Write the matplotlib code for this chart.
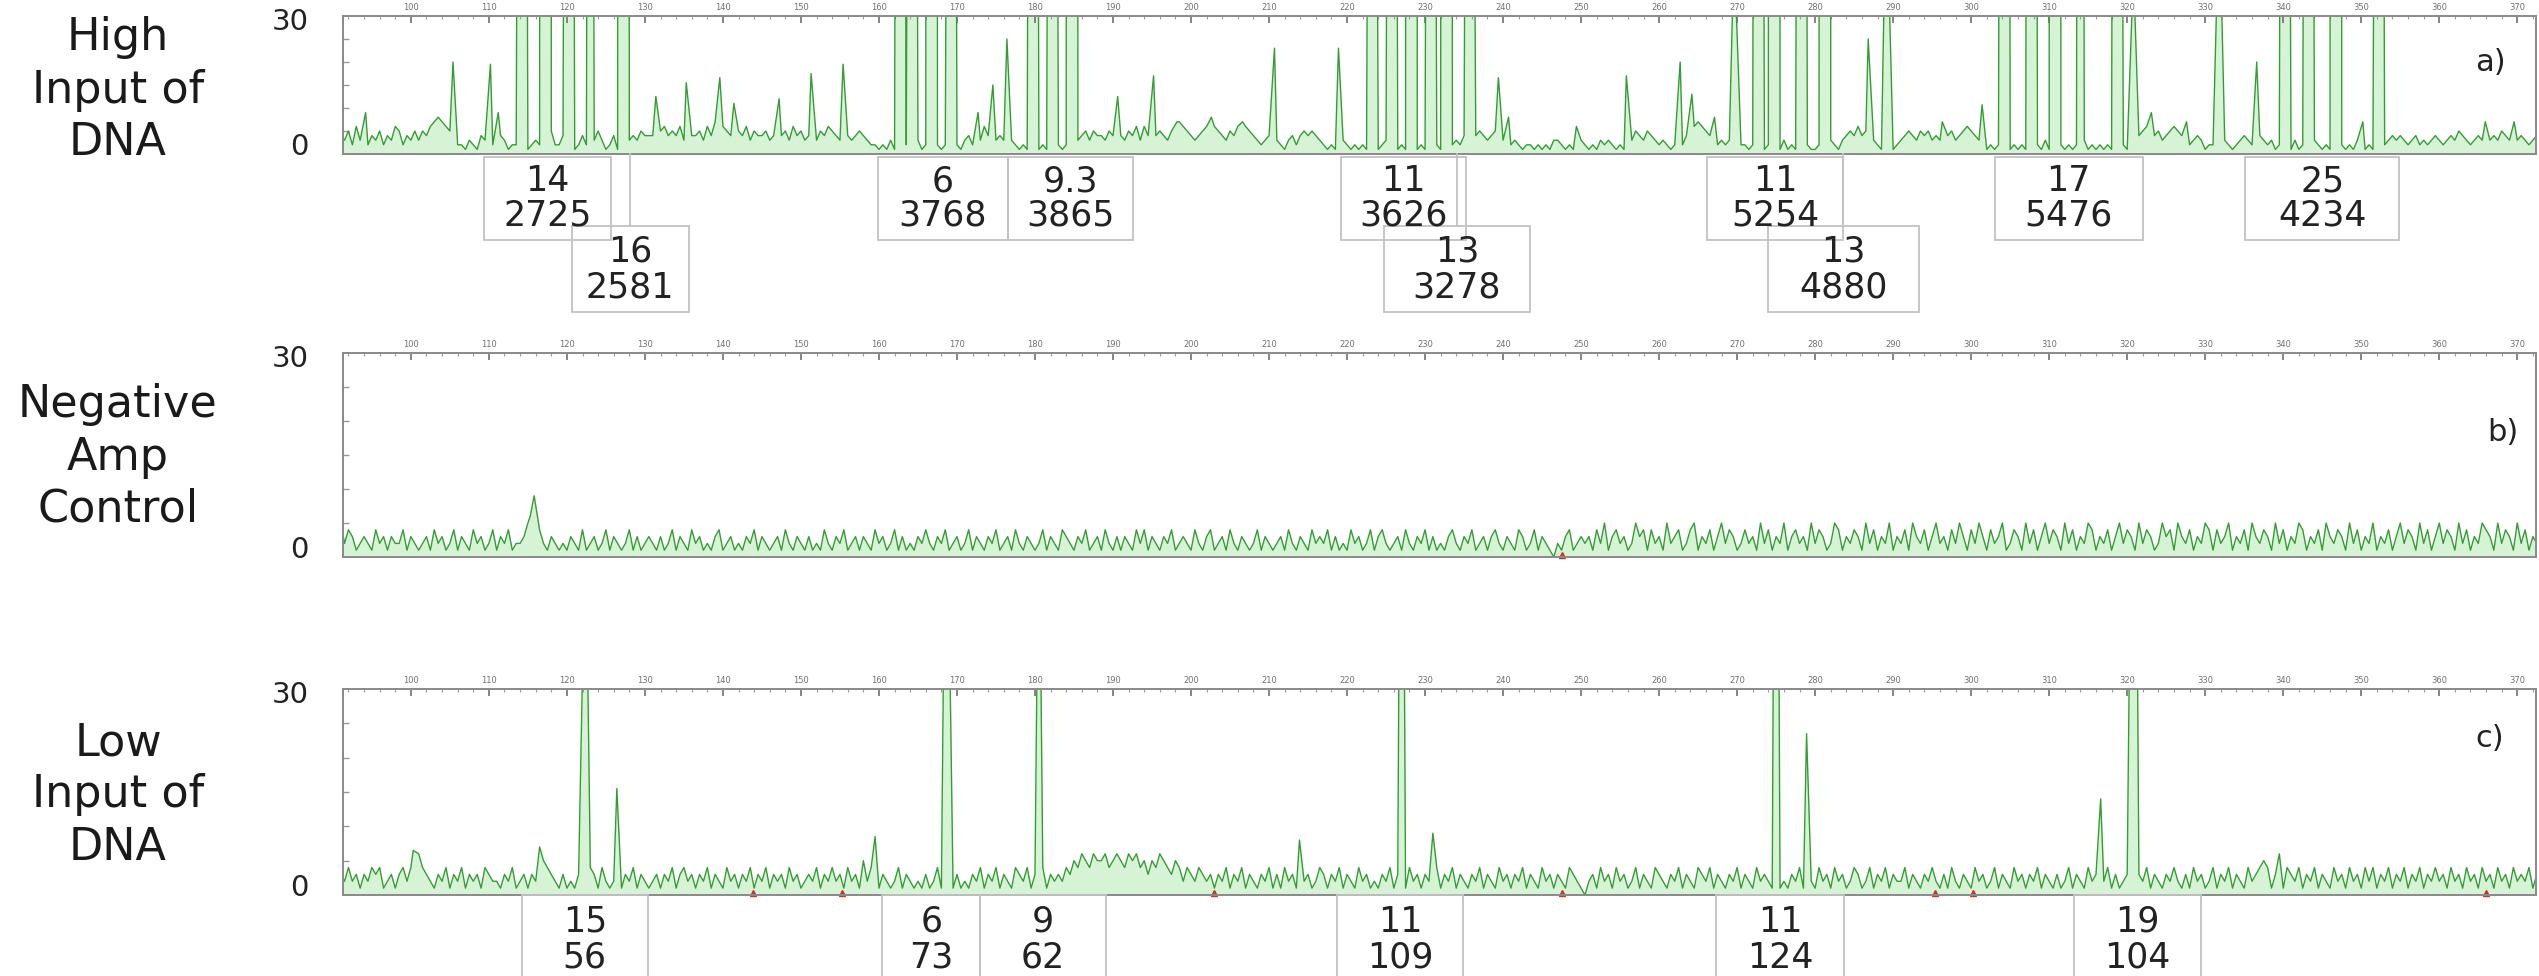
import matplotlib
matplotlib.use("Agg")
import matplotlib.pyplot as plt
from matplotlib.patches import Rectangle
from matplotlib.ticker import FixedLocator
from matplotlib.transforms import blended_transform_factory
import numpy as np

# ---------------- data ----------------
row_names = ["High\nInput of\nDNA", "Negative\nAmp\nControl", "Low\nInput of\nDNA"]
row_tags = ["a)", "b)", "c)"]
size_marks = list(range(100, 371, 10))      # bp scale printed above each trace
grid_start = 91.0                           # first baseline sample (bp)
grid_step = 0.5                             # baseline sample spacing (bp)

# baseline noise, one digit per sample (RFU on the 0-30 scale)
noise_a = ("4352635243524365243535467876542213214342"
           "6431223412321352243112421353124122343544"
           "4356454635445364756543546354453424536453"
           "4535465435434543221213121232312132121221"
           "3425364534343212132121232123434535443542"
           "4354636454543567654345676543546765432343"
           "3213424545432121232121213212312121321212"
           "1212123243545434543423212212121332121232"
           "1213232121235435432321232456765432323212"
           "2121312121312121211212321345464543212312"
           "3454354534354534565432121213121212121312"
           "1212121312121213121324565453456543234312"
           "2123212343234323121213121232121312121321"
           "2123234343234232343234354323432343543434"
           "32343")
noise_b = ("5243123214231322413212314231241321423124"
           "1324122356542132121321412312413212413123"
           "2131241321423121341231213241321231421321"
           "3121421324123132142312413121324213241231"
           "2413213241231421321241321432132412314213"
           "1321424132132412321421341231421321241321"
           "2314213214232413121423124134212314213241"
           "3121342132412313421321431241321021341232"
           "3142513423125341423152341245132413524312"
           "4231524132513423152431254132431524132513"
           "2415324135231425314253142351243152413524"
           "3152413254132413524315243125341532413254"
           "1423513241532431524132541324153243152413"
           "2513241352431524135243152413254315243152"
           "41325")
noise_c = ("3242313243412313424564321324132413231432"
           "2132412313245432131213124314212313241321"
           "2313241342313241321423132413241323142312"
           "3241324231423152431321241321213124132131"
           "2132413241321432413241323243546546556456"
           "5465645354654354243243231324132413213241"
           "3142314231243132413214231213241321423132"
           "2413241321324132142313241321423132143210"
           "2314231423124132143213241321432413213241"
           "3214232131213241321423142312431241324132"
           "2413213242131421321423124132142313241321"
           "3124132142312413123213241321324213142312"
           "4132413214234541321432413241321423142314"
           "2413241324132413242314231423142314231423"
           "24132")

# peaks (apex position in bp, height in RFU)
peaks_a_bp = [94.2, 105.4, 110.2, 111.2, 114.3, 117.2, 120.3, 123.0, 127.2,
              131.4, 135.3, 139.6, 141.4, 147.2, 151.3, 155.4, 162.6, 164.3,
              166.8, 169.4, 172.7, 174.6, 176.4, 179.8, 182.2, 184.8, 190.6,
              195.2, 198.2, 202.6, 206.6, 210.7, 218.9, 223.2, 225.8, 228.3,
              230.7, 232.9, 235.6, 239.4, 240.7, 249.4, 255.8, 262.7, 264.2,
              267.1, 269.6, 272.6, 274.9, 278.4, 281.2, 286.8, 289.1, 296.3,
              301.4, 304.4, 307.6, 310.6, 314.0, 318.6, 320.8, 323.1, 327.6,
              331.8, 336.6, 340.1, 343.2, 346.8, 350.2, 352.3, 365.9, 369.6]
peaks_a_h = [9, 20, 19.5, 9, 380, 2725, 420, 350, 2581,
             12.5, 15.5, 16.6, 11, 12, 17.5, 19.5, 420, 380,
             3768, 350, 9, 15, 25, 450, 390, 3865, 12.5,
             17, 7, 8, 7, 23, 23, 300, 420, 3626,
             380, 3278, 260, 16.6, 8, 6, 17, 20, 13,
             8, 45, 520, 5254, 470, 4880, 25, 60, 7,
             10.7, 610, 690, 5476, 520, 470, 40, 9, 7,
             55, 20, 380, 410, 4234, 7, 350, 7, 7]
peaks_b_bp = [115.3, 115.8]
peaks_b_h = [6, 9]
peaks_c_bp = [100.3, 116.5, 122.4, 126.4, 159.5, 168.6, 180.5, 213.9, 227.0,
              231.0, 275.0, 278.9, 316.6, 320.9, 339.5]
peaks_c_h = [6.5, 7, 56, 15.5, 8.5, 73, 62, 8, 109, 9, 124, 23.5, 14, 104, 6]

# allele call boxes
alleles_a = ["14", "16", "6", "9.3", "11", "13", "11", "13", "17", "25"]
rfu_a = [2725, 2581, 3768, 3865, 3626, 3278, 5254, 4880, 5476, 4234]
box_bp_a = [117.5, 128.1, 168.2, 184.5, 227.2, 234.1, 274.9, 283.6, 312.5, 345.0]
box_row_a = [0, 1, 0, 0, 0, 1, 0, 1, 0, 0]
alleles_c = ["15", "6", "9", "11", "11", "19"]
rfu_c = [56, 73, 62, 109, 124, 104]
box_bp_c = [122.3, 166.7, 181.0, 226.8, 275.5, 321.3]

# off-scale (red) markers on the baseline
marks_b = [247.6]
marks_c = [143.9, 155.3, 203.0, 247.6, 295.3, 300.2, 366.0]

# ---------------- layout (pixels of the 2539 x 976 canvas) ----------------
W, H = 2539, 976
ax_left, ax_right = 343, 2536
panel_top = [16, 353, 689]
panel_bot = [154, 557, 895]
name_y = [90, 457, 795]
tag_xy = [(0.979, 0.66), (0.985, 0.61), (0.979, 0.76)]
box_half_a = [8.1, 7.5, 8.3, 8.0, 8.0, 9.4, 8.7, 9.7, 9.5, 9.9]
box_half_c = [8.1, 6.3, 8.1, 8.1, 8.2, 8.1]
rows_a = [(157, 240, 181, 216), (226, 312, 252, 288)]   # top, bottom, line1, line2
row_c = (895, 1000, 922, 958)

line_col = "#359c35"
fill_col = "#d6f3d6"
spine_col = "#8a8a8a"
box_col = "#c2c2c2"


def build_trace(noise, pk_bp, pk_h):
    xs = grid_start + grid_step * np.arange(len(noise))
    ys = np.array([int(c) for c in noise], dtype=float)
    keep = np.ones(len(xs), dtype=bool)
    for p, h in zip(pk_bp, pk_h):
        reach = 0.45 if h > 30 else 0.26      # off-scale peaks are broader
        keep &= np.abs(xs - p) > reach
    x = np.concatenate([xs[keep], pk_bp])
    y = np.concatenate([ys[keep], pk_h])
    order = np.argsort(x)
    return x[order], y[order]


fig = plt.figure(figsize=(W / 100, H / 100), dpi=100)
fig.patch.set_facecolor("white")

traces = [build_trace(noise_a, peaks_a_bp, peaks_a_h),
          build_trace(noise_b, peaks_b_bp, peaks_b_h),
          build_trace(noise_c, peaks_c_bp, peaks_c_h)]
marks = [[], marks_b, marks_c]

axes = []
for i in range(3):
    rect = [ax_left / W, 1 - panel_bot[i] / H,
            (ax_right - ax_left) / W, (panel_bot[i] - panel_top[i]) / H]
    ax = fig.add_axes(rect)
    x, y = traces[i]
    ax.fill_between(x, y, 0, color=fill_col, lw=0)
    ax.plot(x, y, color=line_col, lw=1.0)
    if marks[i]:
        ax.plot(marks[i], [0.3] * len(marks[i]), ls="none", marker="^",
                ms=4, color="#d03020", clip_on=False)
    ax.set_xlim(91.3, 372.4)
    ax.set_ylim(0, 30)

    ax.xaxis.tick_top()
    ax.set_xticks(size_marks)
    ax.set_xticklabels([str(v) for v in size_marks])
    ax.xaxis.set_minor_locator(FixedLocator(np.arange(92, 373, 2)))
    ax.tick_params(axis="x", which="major", direction="in", length=5, width=1.2,
                   color="#707070", labelsize=6, labelcolor="#707070", pad=3)
    ax.tick_params(axis="x", which="minor", direction="in", length=2.5,
                   width=0.8, color="#9a9a9a")
    ax.set_yticks([])
    ax.yaxis.set_minor_locator(FixedLocator([5, 10, 15, 20, 25]))
    ax.tick_params(axis="y", which="minor", direction="in", length=4,
                   width=1, color="#999999")
    for s in ax.spines.values():
        s.set_color(spine_col)
        s.set_linewidth(1.4)

    ax.annotate("30", xy=(0, 1), xycoords="axes fraction", xytext=(-25, -4),
                textcoords="offset points", ha="right", va="center",
                fontsize=21, color="#222222")
    ax.annotate("0", xy=(0, 0), xycoords="axes fraction", xytext=(-25, 5),
                textcoords="offset points", ha="right", va="center",
                fontsize=21, color="#222222")
    ax.text(tag_xy[i][0], tag_xy[i][1], row_tags[i], transform=ax.transAxes,
            ha="center", va="center", fontsize=22, color="#222222")

    fig.text(118 / W, 1 - name_y[i] / H, row_names[i], ha="center",
             va="center", fontsize=32, linespacing=1.27, color="#1a1a1a")
    axes.append(ax)


def draw_box(ax, center, half, label, value, top, bot, l1, l2, link=False):
    tr = blended_transform_factory(ax.transData, fig.transFigure)
    fig.add_artist(Rectangle((center - half, 1 - bot / H), 2 * half,
                             (bot - top) / H, transform=tr, fill=False,
                             ec=box_col, lw=1.3, clip_on=False))
    if link:
        fig.add_artist(plt.Line2D([center, center], [1 - 154 / H, 1 - top / H],
                                  transform=tr, color=box_col, lw=1.3))
    fig.text(center, 1 - l1 / H, label, transform=tr, ha="center",
             va="center", fontsize=25, color="#222222")
    fig.text(center, 1 - l2 / H, str(value), transform=tr, ha="center",
             va="center", fontsize=25, color="#222222")


for k in range(len(alleles_a)):
    top, bot, l1, l2 = rows_a[box_row_a[k]]
    draw_box(axes[0], box_bp_a[k], box_half_a[k], alleles_a[k], rfu_a[k],
             top, bot, l1, l2, link=box_row_a[k] == 1)

for k in range(len(alleles_c)):
    top, bot, l1, l2 = row_c
    draw_box(axes[2], box_bp_c[k], box_half_c[k], alleles_c[k], rfu_c[k],
             top, bot, l1, l2)

fig.savefig("out.png", dpi=100, facecolor="white")
